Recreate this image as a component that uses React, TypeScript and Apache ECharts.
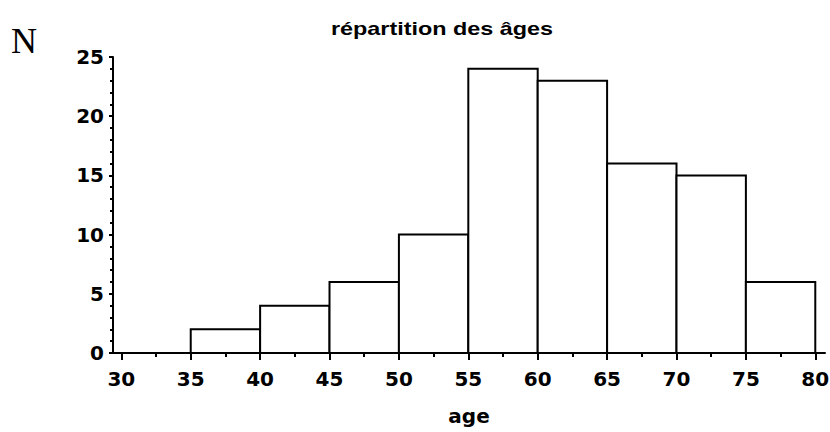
import React, { useEffect, useRef } from "react";
import * as echarts from "echarts";

const binEdges = [30, 35, 40, 45, 50, 55, 60, 65, 70, 75, 80];
const counts = [0, 2, 4, 6, 10, 24, 23, 16, 15, 6];
const xMajorTicks = [30, 35, 40, 45, 50, 55, 60, 65, 70, 75, 80];
const xMinorTicks = [32.5, 37.5, 42.5, 47.5, 52.5, 57.5, 62.5, 67.5, 72.5, 77.5];
const titleText = "répartition des âges";
const xAxisName = "age";
const yAxisName = "N";

export default function App() {
  const ref = useRef<HTMLDivElement>(null);
  useEffect(() => {
    document.body.style.margin = "0";
    const chart = echarts.init(ref.current!, null, { renderer: "svg" });
    const data = counts.map((c, i) => [binEdges[i], binEdges[i + 1], c]);
    const tickFont = {
      fontFamily: "DejaVu Sans",
      fontWeight: "bold" as const,
      fontSize: 20,
      color: "#000",
    };
    chart.setOption({
      animation: false,
      backgroundColor: "#fff",
      grid: { left: 113, right: 5, top: 57, bottom: 79, outerBoundsMode: "none", containLabel: false },
      graphic: [
        {
          type: "text",
          x: 442,
          y: 29,
          scaleX: 1.3,
          style: {
            text: titleText,
            font: "bold 18px 'Liberation Sans', Arial, sans-serif",
            fill: "#000",
            textAlign: "center",
            textVerticalAlign: "middle",
          },
        },
        {
          type: "text",
          x: 24,
          y: 41,
          style: {
            text: yAxisName,
            font: "36px 'Liberation Serif', 'Times New Roman', serif",
            fill: "#000",
            textAlign: "center",
            textVerticalAlign: "middle",
          },
        },
      ],
      xAxis: [
        {
          type: "value",
          min: 29.4,
          max: 80.7,
          name: xAxisName,
          nameLocation: "middle",
          nameGap: 53,
          nameTextStyle: { ...tickFont },
          axisLine: { show: true, lineStyle: { color: "#000", width: 2 } },
          axisTick: {
            show: true,
            length: 7,
            lineStyle: { color: "#000", width: 2 },
            customValues: xMajorTicks,
          },
          axisLabel: { ...tickFont, margin: 16, customValues: xMajorTicks },
          splitLine: { show: false },
        },
        {
          type: "value",
          min: 29.4,
          max: 80.7,
          position: "bottom",
          axisLine: { show: false },
          axisTick: {
            show: true,
            length: 4,
            lineStyle: { color: "#000", width: 2 },
            customValues: xMinorTicks,
          },
          axisLabel: { show: false, customValues: xMinorTicks },
          splitLine: { show: false },
        },
      ],
      yAxis: {
        type: "value",
        min: 0,
        max: 25,
        interval: 5,
        axisLine: { show: true, lineStyle: { color: "#000", width: 2 } },
        axisTick: { show: true, length: 4, lineStyle: { color: "#000", width: 2 } },
        minorTick: { show: true, splitNumber: 5, length: 3, lineStyle: { color: "#000", width: 2 } },
        axisLabel: { ...tickFont, margin: 9 },
        splitLine: { show: false },
        minorSplitLine: { show: false },
      },
      series: [
        {
          type: "custom",
          xAxisIndex: 0,
          data,
          encode: { x: [0, 1], y: 2 },
          renderItem: (params: any, api: any) => {
            const p0 = api.coord([api.value(0), 0]);
            const p1 = api.coord([api.value(1), api.value(2)]);
            return {
              type: "rect",
              shape: { x: p0[0], y: p1[1], width: p1[0] - p0[0], height: p0[1] - p1[1] },
              style: { fill: "#fff", stroke: "#000", lineWidth: 2 },
            };
          },
        },
      ],
    });
    return () => chart.dispose();
  }, []);
  return (
    <div
      ref={ref}
      style={{ position: "fixed", left: 0, top: 0, width: 830, height: 432, background: "#fff" }}
    />
  );
}
